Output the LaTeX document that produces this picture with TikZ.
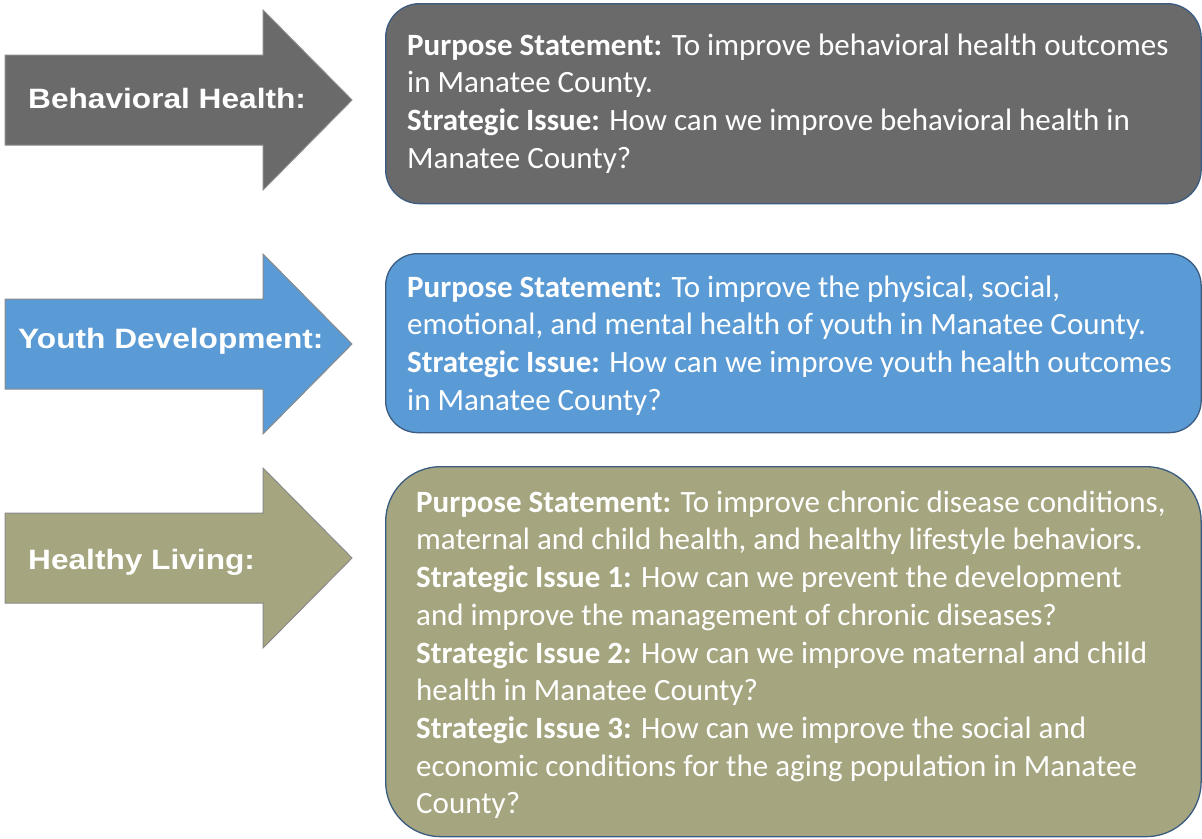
\documentclass[tikz,border=0pt]{standalone}
\usepackage{fontspec}
\setmainfont{Carlito}
\newfontfamily\arrowfont[FakeStretch=1.13]{Liberation Sans}
\definecolor{bhgray}{HTML}{6A6A6A}
\definecolor{ydblue}{HTML}{5B9BD5}
\definecolor{hlolive}{HTML}{A5A57F}
\definecolor{arrowedge}{HTML}{8A8A8A}
\definecolor{boxedge}{HTML}{3B5B80}
\begin{document}
\begin{tikzpicture}[x=1pt,y=-1pt,
  fatarrow/.pic={\path[pic actions] (-347,-45) -- (-89,-45) -- (-89,-90) -- (0,0)
      -- (-89,90) -- (-89,45) -- (-347,45) -- cycle;},
  arrowstyle/.style={draw=arrowedge, line width=1pt},
  arrowlabel/.style={anchor=base west, inner sep=0pt, text=white,
      font=\arrowfont\bfseries\fontsize{28}{33}\selectfont},
  panel/.style={draw=boxedge, line width=1.3pt, anchor=north west, inner sep=0pt},
  boxtext/.style={anchor=north west, inner sep=0pt, align=left, text=white,
      font=\fontsize{31}{37.7}\selectfont},
]
\useasboundingbox (0,0) rectangle (1202,838);

% arrows on the left
\pic[arrowstyle, fill=bhgray] at (352,100) {fatarrow};
\pic[arrowstyle, fill=ydblue] at (352,344) {fatarrow};
\pic[arrowstyle, fill=hlolive] at (352,558) {fatarrow};

\node[arrowlabel] (bhlabel) at (28,108) {Behavioral Health:};
\node[arrowlabel] (ydlabel) at (18,348) {Youth Development:};
\node[arrowlabel] (hllabel) at (28,569) {Healthy Living:};

% rounded panels on the right
\node[panel, fill=bhgray, rounded corners=34pt, minimum width=815.5pt, minimum height=200pt] (bhbox) at (385,3) {};
\node[panel, fill=ydblue, rounded corners=32pt, minimum width=815.5pt, minimum height=179pt] (ydbox) at (385,253) {};
\node[panel, fill=hlolive, rounded corners=55pt, minimum width=815.5pt, minimum height=370pt] (hlbox) at (385,466) {};

\node[boxtext] (bhtext) at (407,27) {\rule{0pt}{28pt}\textbf{Purpose Statement:} To improve behavioral health outcomes\\
in Manatee County.\\
\textbf{Strategic Issue:} How can we improve behavioral health in\\
Manatee County?};

\node[boxtext] (ydtext) at (407,269) {\rule{0pt}{28pt}\textbf{Purpose Statement:} To improve the physical, social,\\
emotional, and mental health of youth in Manatee County.\\
\textbf{Strategic Issue:} How can we improve youth health outcomes\\
in Manatee County?};

\node[boxtext] (hltext) at (416,484) {\rule{0pt}{28pt}\textbf{Purpose Statement:} To improve chronic disease conditions,\\
maternal and child health, and healthy lifestyle behaviors.\\
\textbf{Strategic Issue 1:} How can we prevent the development\\
and improve the management of chronic diseases?\\
\textbf{Strategic Issue 2:} How can we improve maternal and child\\
health in Manatee County?\\
\textbf{Strategic Issue 3:} How can we improve the social and\\
economic conditions for the aging population in Manatee\\
County?};
\end{tikzpicture}
\end{document}
